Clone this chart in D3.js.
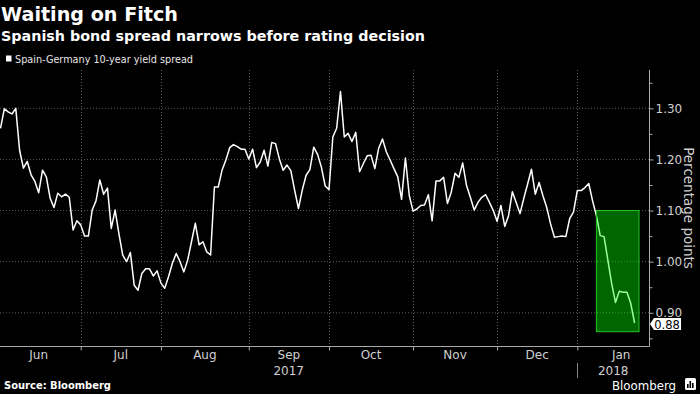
<!DOCTYPE html>
<html><head><meta charset="utf-8">
<script src="https://cdn.jsdelivr.net/npm/d3@7"></script>
<style>html,body{margin:0;padding:0;background:#000;} svg{display:block;}</style>
</head><body><svg id="c" width="700" height="394"></svg>
<script>
// Spain-Germany 10-year yield spread, one value per trading day from 2 Jun 2017
const spread = [
1.261,1.299,1.293,1.289,1.300,1.218,1.183,1.196,1.170,1.157,
1.135,1.179,1.166,1.124,1.106,1.134,1.127,1.132,1.126,1.062,
1.080,1.072,1.050,1.050,1.101,1.119,1.160,1.132,1.144,1.065,
1.101,1.055,1.013,1.000,1.018,0.954,0.944,0.977,0.986,0.986,
0.972,0.982,0.958,0.948,0.971,0.997,1.016,1.000,0.980,1.003,
1.039,1.075,1.033,1.039,1.019,1.013,1.146,1.146,1.179,1.199,
1.223,1.229,1.225,1.220,1.220,1.201,1.220,1.184,1.195,1.218,
1.187,1.233,1.231,1.201,1.179,1.189,1.178,1.140,1.104,1.140,
1.169,1.180,1.224,1.210,1.185,1.148,1.141,1.244,1.261,1.333,
1.244,1.251,1.235,1.253,1.176,1.192,1.207,1.208,1.182,1.222,
1.240,1.215,1.199,1.182,1.166,1.122,1.203,1.130,1.099,1.103,
1.110,1.111,1.131,1.080,1.158,1.158,1.165,1.114,1.136,1.173,
1.165,1.193,1.149,1.126,1.101,1.116,1.126,1.131,1.116,1.100,
1.079,1.110,1.069,1.090,1.137,1.116,1.094,1.124,1.152,1.181,
1.132,1.155,1.129,1.106,1.074,1.048,1.049,1.050,1.049,1.084,
1.097,1.139,1.139,1.145,1.153,1.119,1.090,1.051,1.049,1.003,
0.957,0.920,0.942,0.940,0.940,0.918,0.880
];
const startDate = [2017, 5, 2];
const monthLabels = ["Jun","Jul","Aug","Sep","Oct","Nov","Dec","Jan"];
const monthStarts = [[2017,5,1],[2017,6,1],[2017,7,1],[2017,8,1],[2017,9,1],[2017,10,1],[2017,11,1],[2018,0,1],[2018,1,1]];
const yearLabels = ["2017","2018"];
const yTicks = [0.90,1.00,1.10,1.20,1.30];
const yMinorTicks = [0.85,0.95,1.05,1.15,1.25,1.35];
const highlightIdx = [156, 167.15];
const highlightVal = [0.863, 1.10];
const lastLabel = "0.88";

const FONT = "DejaVu Sans";
const svg = d3.select("#c");
svg.append("rect").attr("width",700).attr("height",394).attr("fill","#000");

const start = new Date(...startDate);
function isWd(d){const w=d.getDay();return w!==0&&w!==6;}
function tIndex(arr){
  const date=new Date(...arr); let n=0; const c=new Date(start);
  if(date>=start){ while(c<date){ if(isWd(c)) n++; c.setDate(c.getDate()+1);} }
  else { while(c>date){ c.setDate(c.getDate()-1); if(isWd(c)) n--; } }
  return n;
}
const plotL=0, plotR=649, plotT=70, plotB=346;
const x = d3.scaleLinear().domain([0, spread.length-1]).range([0.5, 634.6]);
const y = d3.scaleLinear().domain([0.835, 1.375]).range([plotB, plotT]);

const mIdx = monthStarts.map(tIndex);
const gridX = mIdx.filter(i=>x(i)>plotL+2 && x(i)<plotR-2);

// grid
const g = svg.append("g");
g.selectAll(".hg").data(yTicks).join("line")
  .attr("x1",plotL).attr("x2",plotR).attr("y1",d=>y(d)).attr("y2",d=>y(d))
  .attr("stroke","#5a5a5a").attr("stroke-width",1).attr("stroke-dasharray","1,2");
g.selectAll(".vg").data(gridX).join("line")
  .attr("x1",d=>Math.round(x(d))+0.5).attr("x2",d=>Math.round(x(d))+0.5).attr("y1",plotT).attr("y2",plotB)
  .attr("stroke","#5a5a5a").attr("stroke-width",1).attr("stroke-dasharray","1,2");

// line
const line = d3.line().x((d,i)=>x(i)).y(d=>y(d));
svg.append("path").datum(spread).attr("d",line)
  .attr("fill","none").attr("stroke","#fff").attr("stroke-width",1.5).attr("stroke-linejoin","round");

// highlight box
const hx0=x(highlightIdx[0]), hx1=x(highlightIdx[1]);
svg.append("rect").attr("x",hx0).attr("y",y(highlightVal[1])).attr("width",hx1-hx0)
  .attr("height",y(highlightVal[0])-y(highlightVal[1]))
  .attr("fill","#00ff00").attr("fill-opacity",0.4)
  .attr("stroke","#22c922").attr("stroke-width",1);

// right axis
const yAxis = svg.append("g").attr("transform",`translate(${plotR+0.5},0)`)
  .call(d3.axisRight(y).tickValues(yTicks).tickSize(4).tickPadding(2).tickFormat(d3.format(".2f")));
yAxis.select(".domain").remove();
yAxis.selectAll("line").attr("stroke","#aaa");
yAxis.selectAll("text").attr("fill","#d0d0d0").attr("font-family",FONT).attr("font-size",12);
const yMinor = svg.append("g").attr("transform",`translate(${plotR+0.5},0)`)
  .call(d3.axisRight(y).tickValues(yMinorTicks).tickSize(3).tickFormat(""));
yMinor.select(".domain").remove();
yMinor.selectAll("line").attr("stroke","#aaa");
svg.append("path").attr("d",`M${plotR+0.5},${plotT}V${plotB+0.5}H${plotL}`)
  .attr("fill","none").attr("stroke","#aaa").attr("stroke-width",1);

// bottom axis ticks
const xAxis = svg.append("g").attr("transform",`translate(0,${plotB+0.5})`)
  .call(d3.axisBottom(x).tickValues(gridX).tickSize(4).tickFormat(""));
xAxis.select(".domain").remove();
xAxis.selectAll("line").attr("stroke","#aaa");

// month labels
const mCenters = monthLabels.map((m,i)=>(x(mIdx[i])+x(mIdx[i+1]))/2);
svg.selectAll(".ml").data(monthLabels).join("text")
  .attr("x",(d,i)=>mCenters[i]).attr("y",359).attr("text-anchor","middle")
  .attr("fill","#d0d0d0").attr("font-family",FONT).attr("font-size",12).text(d=>d);
const janX = x(mIdx[7]);
const yearCenters = [(plotL+janX)/2, (janX+plotR)/2];
svg.selectAll(".yl").data(yearLabels).join("text")
  .attr("x",(d,i)=>yearCenters[i]).attr("y",375).attr("text-anchor","middle")
  .attr("fill","#d0d0d0").attr("font-family",FONT).attr("font-size",12).text(d=>d);
svg.append("line").attr("x1",Math.round(janX)+0.5).attr("x2",Math.round(janX)+0.5).attr("y1",363).attr("y2",378)
  .attr("stroke","#888").attr("stroke-width",1);

// axis title
svg.append("text").attr("transform","translate(684,208) rotate(90)").attr("text-anchor","middle")
  .attr("fill","#d0d0d0").attr("font-family",FONT).attr("font-size",13.5).text("Percentage points");

// last value tag
const ly = y(spread[spread.length-1]);
svg.append("path").attr("d",`M${plotR+1},${ly+1} L${plotR+5},${ly-5} H681 V${ly+7} H${plotR+5} Z`)
  .attr("fill","#fff");
svg.append("text").attr("x",667).attr("y",ly+5.5).attr("text-anchor","middle")
  .attr("fill","#000").attr("font-family",FONT).attr("font-size",11.5).text(lastLabel);

// titles
svg.append("text").attr("x",1).attr("y",21).attr("fill","#fff").attr("font-family",FONT)
  .attr("font-weight","bold").attr("font-size",19).attr("textLength",177).attr("lengthAdjust","spacingAndGlyphs")
  .text("Waiting on Fitch");
svg.append("text").attr("x",1).attr("y",40.5).attr("fill","#fff").attr("font-family",FONT)
  .attr("font-weight","bold").attr("font-size",14.5).attr("textLength",424).attr("lengthAdjust","spacingAndGlyphs")
  .text("Spanish bond spread narrows before rating decision");
svg.append("rect").attr("x",6).attr("y",55.5).attr("width",5.5).attr("height",6).attr("fill","#fff");
svg.append("text").attr("x",15).attr("y",63).attr("fill","#e6e6e6").attr("font-family",FONT)
  .attr("font-size",10.5).attr("textLength",178).attr("lengthAdjust","spacingAndGlyphs")
  .text("Spain-Germany 10-year yield spread");

// footer
svg.append("text").attr("x",4).attr("y",389).attr("fill","#fff").attr("font-family",FONT)
  .attr("font-weight","bold").attr("font-size",10.5).attr("textLength",107).attr("lengthAdjust","spacingAndGlyphs")
  .text("Source: Bloomberg");
svg.append("text").attr("x",676).attr("y",390).attr("text-anchor","end").attr("fill","#fff").attr("font-family",FONT)
  .attr("font-size",13).attr("textLength",64).attr("lengthAdjust","spacingAndGlyphs")
  .text("Bloomberg");
const logo = svg.append("g").attr("transform","translate(685,378)");
logo.append("rect").attr("width",11).attr("height",12).attr("rx",1.5).attr("fill","#fff");
[[2,6,1.6],[4.5,3,1.6],[7,5,1.6]].forEach(b=>logo.append("rect").attr("x",b[0]).attr("y",b[1]).attr("width",b[2]).attr("height",9-b[1]+1).attr("fill","#000"));
</script></body></html>
